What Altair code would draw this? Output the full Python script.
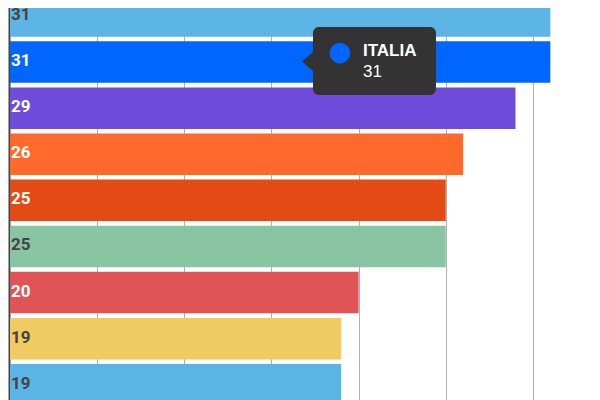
import altair as alt
import pandas as pd

# ---- data ----
categories = ["PAESE 1", "ITALIA", "PAESE 3", "PAESE 4", "PAESE 5",
              "PAESE 6", "PAESE 7", "PAESE 8", "PAESE 9"]
values = [31, 31, 29, 26, 25, 25, 20, 19, 19]
grid_values = [5, 10, 15, 20, 25, 30]
tooltip_category = "ITALIA"
tooltip_value = 31
tooltip_anchor = 16.75  # pointer position, in value units

# ---- style ----
bar_colors = ["#5DB5E5", "#0066FF", "#6E4BDB", "#FF6A2C", "#E44A14",
              "#8AC5A3", "#E05455", "#F0CB62", "#5AB4E5"]


def label_color(hex_color):
    r, g, b = (int(hex_color[i:i + 2], 16) for i in (1, 3, 5))
    lum = 0.299 * r + 0.587 * g + 0.114 * b
    return "#444444" if lum > 150 else "#FFFFFF"


df = pd.DataFrame({
    "cat": categories,
    "value": values,
    "label": [str(v) for v in values],
    "text_color": [label_color(c) for c in bar_colors],
})

tip = pd.DataFrame({
    "cat": [tooltip_category],
    "anchor": [tooltip_anchor],
    "name": [tooltip_category],
    "val": [str(tooltip_value)],
})
tip_color = bar_colors[categories.index(tooltip_category)]

x_scale = alt.Scale(domain=[0, 33.39], nice=False, zero=True)
y_scale = alt.Scale(domain=categories, range=[-15.1, 399.8],
                    paddingInner=0.1, paddingOuter=0.05)

x_enc = alt.X("value:Q", scale=x_scale,
              axis=alt.Axis(values=grid_values, grid=True, gridColor="#B0B0B0",
                            gridWidth=1, labels=False, ticks=False,
                            domain=False, title=None))
y_enc = alt.Y("cat:N", scale=y_scale, sort=categories,
              axis=alt.Axis(labels=False, ticks=False, domain=True,
                            domainColor="#444444", domainWidth=2, offset=1,
                            title=None, grid=False))

bars = alt.Chart(df).mark_bar(clip=True).encode(
    x=x_enc,
    y=y_enc,
    color=alt.Color("cat:N", scale=alt.Scale(domain=categories, range=bar_colors),
                    legend=None),
)

labels = alt.Chart(df).mark_text(
    align="left", baseline="middle", dx=1, dy=-1,
    font="Roboto", fontWeight="bold", fontSize=17,
).encode(
    x=alt.datum(0),
    y=alt.Y("cat:N"),
    text="label:N",
    color=alt.Color("text_color:N", scale=None),
)

box = alt.Chart(tip).mark_bar(
    color="#333333", size=68, cornerRadius=6, xOffset=11, x2Offset=134, yOffset=-1,
).encode(
    x=alt.X("anchor:Q"),
    x2=alt.X2("anchor"),
    y=alt.Y("cat:N"),
)

pointer = alt.Chart(tip).mark_point(
    shape="M-1,0L1.15,-1.85L1.15,1.85Z", size=121, filled=True, opacity=1,
    color="#333333", xOffset=5.5, yOffset=-0.5,
).encode(
    x=alt.X("anchor:Q"),
    y=alt.Y("cat:N"),
)

dot = alt.Chart(tip).mark_point(
    shape="circle", size=428, filled=True, opacity=1, color=tip_color,
    xOffset=38, yOffset=-9,
).encode(
    x=alt.X("anchor:Q"),
    y=alt.Y("cat:N"),
)

tip_name = alt.Chart(tip).mark_text(
    align="left", baseline="alphabetic", font="Liberation Sans",
    fontWeight="bold", fontSize=17, color="#FFFFFF", xOffset=61, yOffset=-6,
).encode(
    x=alt.X("anchor:Q"),
    y=alt.Y("cat:N"),
    text="name:N",
)

tip_val = alt.Chart(tip).mark_text(
    align="left", baseline="alphabetic", font="Liberation Sans",
    fontSize=17, color="#FFFFFF", xOffset=61, yOffset=15,
).encode(
    x=alt.X("anchor:Q"),
    y=alt.Y("cat:N"),
    text="val:N",
)

chart = alt.layer(bars, labels, box, pointer, dot, tip_name, tip_val).properties(
    width=582,
    height=392,
    autosize=alt.AutoSizeParams(type="none"),
    padding={"left": 2, "top": 0, "right": 0, "bottom": 0},
    background="#FFFFFF",
).configure_view(stroke=None)

chart.save("out.html", embed_options={"renderer": "svg", "actions": False})
